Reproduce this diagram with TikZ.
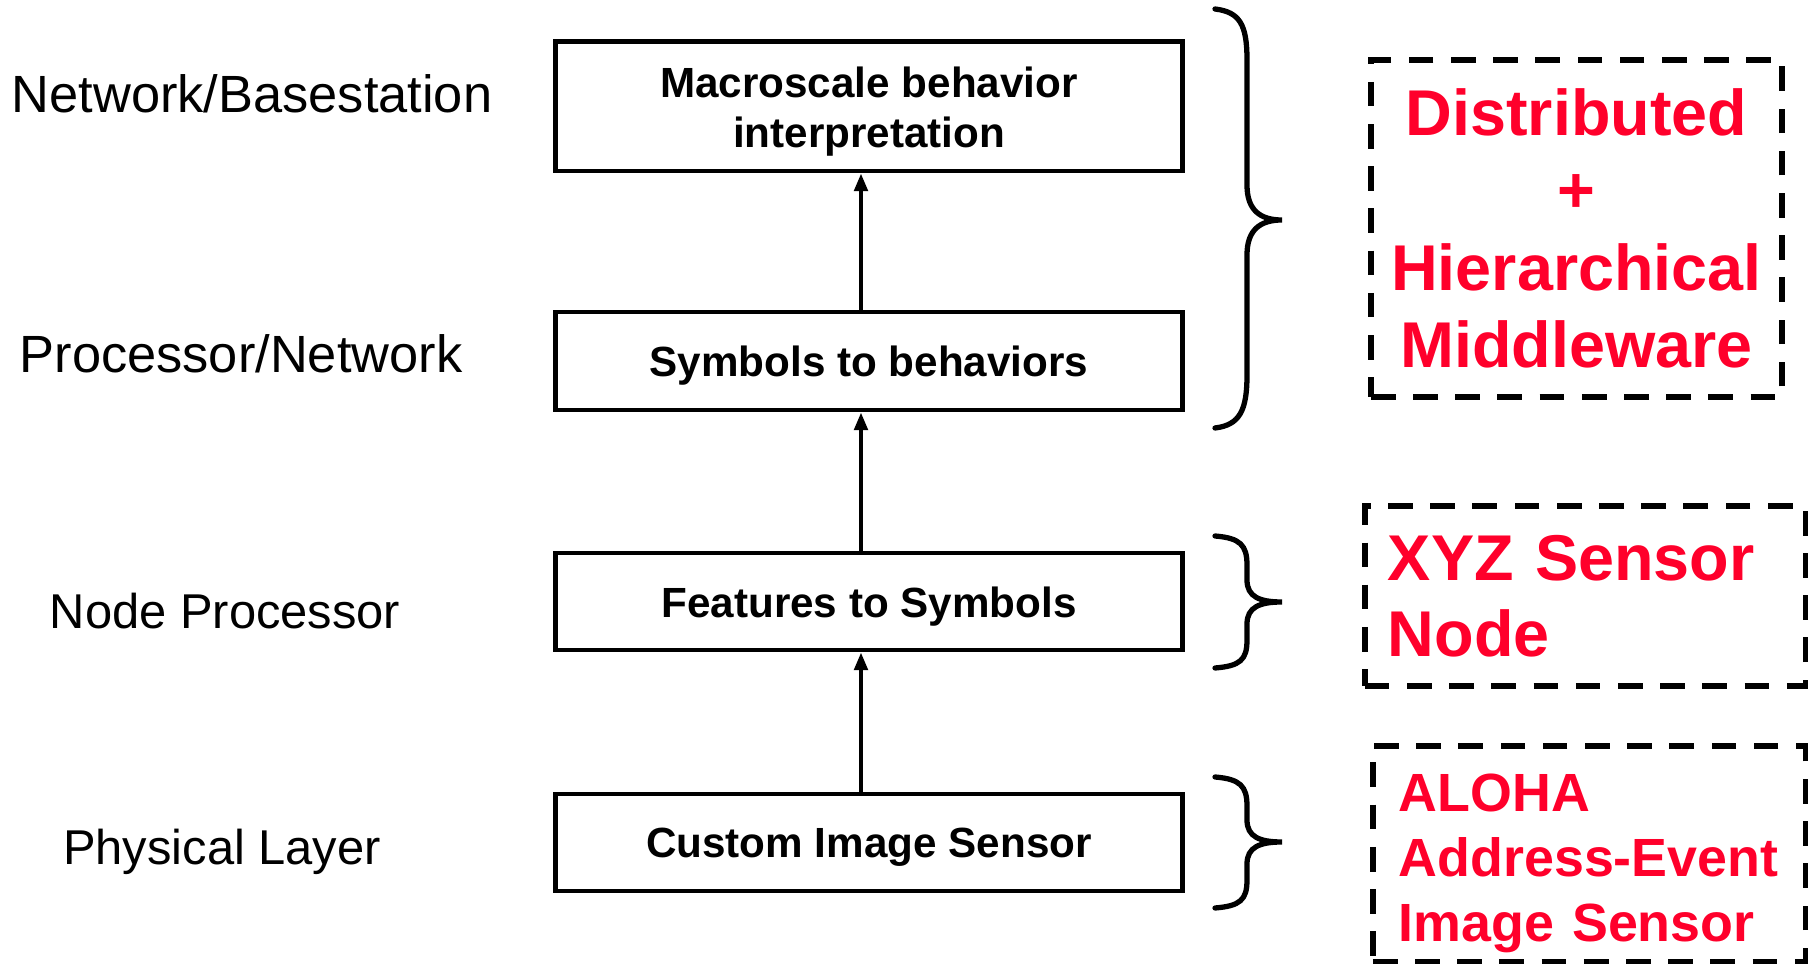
\documentclass[tikz,border=0pt]{standalone}
\usepackage{fontspec}
\setmainfont{Liberation Sans}
\usetikzlibrary{arrows.meta}
\definecolor{hired}{RGB}{255,0,43}
\tikzset{
  layerbox/.style={draw, line width=1.4pt, minimum width=6.26cm, inner sep=0pt},
  boxtext/.style={inner sep=0pt, align=center, font=\fontsize{12}{14.4}\selectfont\bfseries},
  sidelabel/.style={anchor=base, inner sep=0pt, font=\fontsize{14.9}{18}\selectfont},
  dbox/.style={draw, line width=1.5pt, dash pattern=on 7pt off 5pt, inner sep=0pt, text=hired},
  redtext/.style={inner sep=0pt, text=hired, align=left, anchor=base west},
  upar/.style={line width=1.1pt, -{Triangle[length=5pt,width=3.8pt]}},
  brc/.style={line width=1.5pt, line cap=round}
}
\begin{document}
\begin{tikzpicture}[x=0.01cm, y=-0.01cm]
\useasboundingbox (0,0) rectangle (1814,964);
\fill[white] (0,0) rectangle (1814,964);

% layer boxes
\node[layerbox, minimum height=1.29cm] (b1) at (869,106.5) {};
\node[layerbox, minimum height=0.98cm] (b2) at (869,361) {};
\node[layerbox, minimum height=0.97cm] (b3) at (869,601.5) {};
\node[layerbox, minimum height=0.97cm] (b4) at (869,842.5) {};
\node[boxtext] (t1) at ([yshift=-0.05cm]b1.center) {Macroscale behavior\\interpretation};
\node[boxtext] (t2) at ([yshift=-0.05cm]b2.center) {Symbols to behaviors};
\node[boxtext] (t3) at ([yshift=-0.05cm]b3.center) {Features to Symbols};
\node[boxtext] (t4) at ([yshift=-0.05cm]b4.center) {Custom Image Sensor};

% arrows
\draw[upar] ([xshift=-0.08cm]b2.north) -- ([xshift=-0.08cm]b1.south);
\draw[upar] ([xshift=-0.08cm]b3.north) -- ([xshift=-0.08cm]b2.south);
\draw[upar] ([xshift=-0.08cm]b4.north) -- ([xshift=-0.08cm]b3.south);

% side labels
\node[sidelabel] (l1) at (252,113) {Network/Basestation};
\node[sidelabel] (l2) at (241,373) {Processor/Network};
\node[sidelabel, font=\fontsize{13.9}{17}\selectfont] (l3) at (225,629) {Node Processor};
\node[sidelabel, font=\fontsize{13.9}{17}\selectfont] (l4) at (222,865) {Physical Layer};

% braces
\draw[brc] (1215,9) .. controls (1240,12) and (1247,25) .. (1247,60) -- (1247,185)
  .. controls (1247,210) and (1260,220) .. (1282,220)
  .. controls (1260,220) and (1247,230) .. (1247,255) -- (1247,375)
  .. controls (1247,410) and (1240,425) .. (1215,428);
\draw[brc] (1215,536) .. controls (1240,538) and (1247,545) .. (1247,565) -- (1247,580)
  .. controls (1247,597) and (1260,602) .. (1282,602)
  .. controls (1260,602) and (1247,607) .. (1247,624) -- (1247,640)
  .. controls (1247,660) and (1240,666) .. (1215,668);
\draw[brc] (1215,777) .. controls (1240,779) and (1247,786) .. (1247,806) -- (1247,820)
  .. controls (1247,837) and (1260,842) .. (1282,842)
  .. controls (1260,842) and (1247,847) .. (1247,864) -- (1247,880)
  .. controls (1247,900) and (1240,906) .. (1215,908);

% dashed boxes
\node[dbox, minimum width=4.11cm, minimum height=3.37cm, align=center,
  font=\fontsize{18.4}{22}\selectfont\bfseries] (d1) at (1576.5,228.5)
  {Distributed\\+\\Hierarchical\\Middleware};
\node[dbox, minimum width=4.40cm, minimum height=1.80cm, text width=3.94cm, align=left,
  font=\fontsize{18.4}{21.5}\selectfont\bfseries] (d2) at (1585,596)
  {XYZ Sensor\\Node};
\node[dbox, minimum width=4.32cm, minimum height=2.16cm] (d3) at (1589,854) {};
\node[redtext, text width=3.9cm, font=\fontsize{15.3}{18.6}\selectfont\bfseries] (r3) at (1398,811)
  {ALOHA\\Address-Event\\Image Sensor};
\end{tikzpicture}
\end{document}
